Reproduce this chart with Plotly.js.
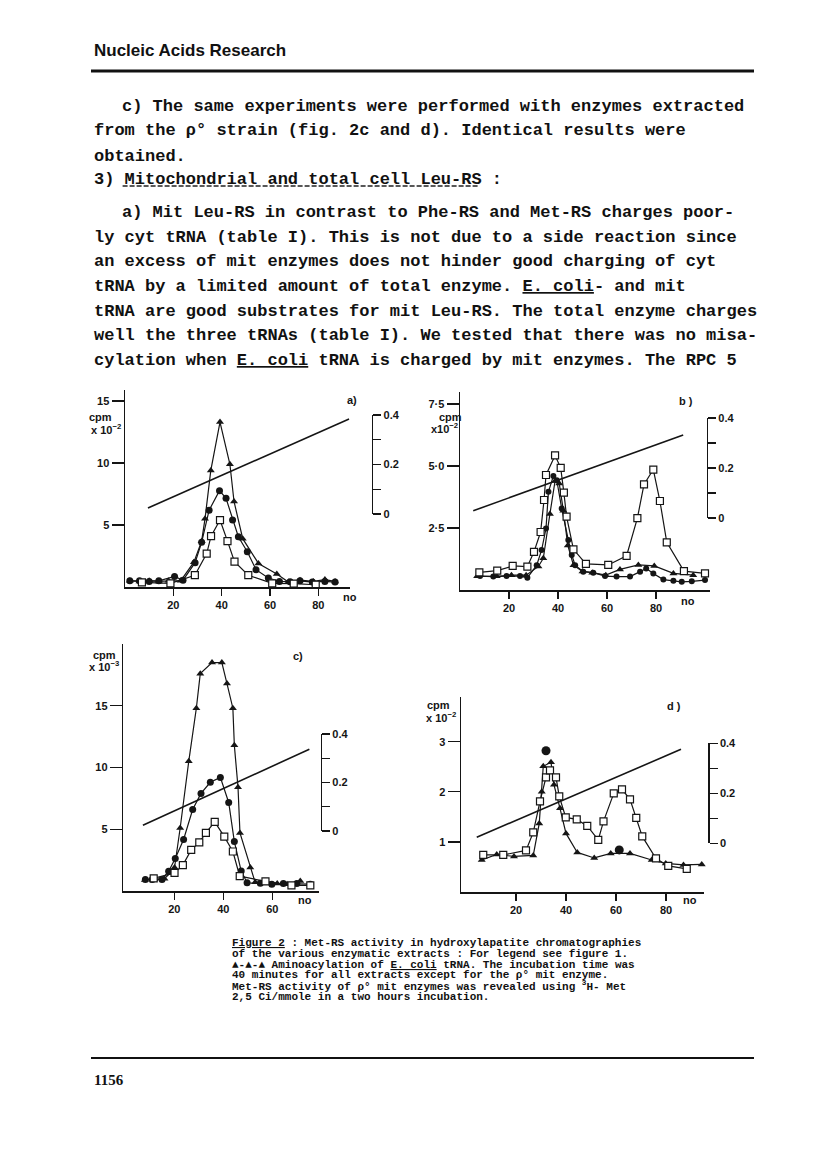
<!DOCTYPE html>
<html><head><meta charset="utf-8">
<script src="https://cdn.plot.ly/plotly-3.0.1.min.js"></script>
<style>html,body{margin:0;padding:0;background:#fff}#chart{width:816px;height:1149px}</style>
</head><body><div id="chart"></div>
<script>
// ---------- DATA ----------
// Panel a
const a_tri_x = [2,6,10,14,18,23,28.5,31.7,33.1,35.5,39.3,43.4,45.1,48.7,55.2,62.8,67.6,72.4,77.9,82.7,86.9];
const a_tri_y = [0.5,0.45,0.5,0.45,0.5,0.5,2.0,3.7,5.5,9.4,13.3,9.9,6.9,3.9,1.9,1.05,0.4,0.55,0.45,0.6,0.45];
const a_cir_x = [2,6,10,14,20.5,24,29,31.7,34.8,39.1,41.8,44.5,46.9,50.6,54.2,59.3,63.9,68.3,72.4,77.5,82.7,86.9];
const a_cir_y = [0.5,0.5,0.45,0.5,0.85,0.55,1.96,3.6,6.2,7.77,7.15,5.4,4.05,2.85,1.4,0.72,0.45,0.42,0.5,0.4,0.45,0.4];
const a_sq_x = [7,18.8,28.9,33.8,35.6,39.3,42.4,45.3,51,60.9,69.8,78.9];
const a_sq_y = [0.38,0.3,0.95,2.7,4.1,5.4,3.7,2.05,0.95,0.3,0.27,0.18];
const a_grad_x = [9.5,92.7];
const a_grad_y = [0.024,0.384];
// Panel b
const b_sq_x = [7.9,15.2,21.5,27.5,30.2,32.9,34.3,35.1,38.8,41.1,42.4,43.5,46.3,51.4,60.5,68,72.4,75.1,78.9,81.6,84.4,91.4,100];
const b_sq_y = [0.71,0.78,0.97,0.94,1.54,2.34,3.63,4.64,5.43,4.93,3.93,2.96,1.64,1.05,1.01,1.38,2.9,4.26,4.86,3.59,1.92,0.76,0.67];
const b_tri_x = [7,15,21,27,32,34,36.7,38.8,40.5,42.2,44,46.3,50,54,59.5,65.3,72.8,79.3,87.1,95.2];
const b_tri_y = [0.55,0.55,0.6,0.6,0.95,1.28,3.07,4.4,4.3,3.2,1.8,1.0,0.75,0.7,0.6,0.83,1.01,0.97,0.67,0.6];
const b_cir_x = [8.2,13.6,19,24.5,27.5,31.3,33.3,35.1,36.1,38.1,39.5,41.5,44.2,45.6,47,50.3,54.4,59.2,63.9,69.4,73.5,76,78.9,83,87.1,90.5,94.6,100];
const b_cir_y = [0.56,0.54,0.56,0.56,0.49,1.0,1.61,2.48,3.96,4.6,4.43,3.29,2.02,1.41,1.0,0.74,0.7,0.56,0.54,0.54,0.74,0.87,0.67,0.42,0.37,0.33,0.35,0.4];
const b_grad_x = [5.4,91.1];
const b_grad_y = [0.029,0.332];
// Panel c
const c_tri_x = [8,12,16,18.5,20.1,22.4,25.9,29,30.6,35.4,39.4,41.5,43.9,44.5,46,46.8,51,53,58,62,66,71.4];
const c_tri_y = [0.9,0.95,1.0,1.5,1.9,5.1,10.5,14.8,17.6,18.5,18.5,16.8,14.8,11.8,8.4,4.7,1.9,0.7,0.65,0.6,0.55,0.8];
const c_cir_x = [8.2,11,15,17.7,20.4,23.8,27.5,30.9,34.7,38.8,42.2,44.5,47.3,49.7,55.1,59.8,64.5,70,75.5];
const c_cir_y = [0.94,0.94,0.94,1.6,2.63,4.17,6.6,7.9,8.8,9.2,7.17,4.0,1.61,0.67,0.62,0.54,0.6,0.6,0.55];
const c_sq_x = [11.6,20.1,23.5,26.9,30.2,32.9,36.5,40.4,43.9,46.7,57.2,67.8,75.5];
const c_sq_y = [1.02,1.47,2.1,3.33,3.93,4.7,5.6,4.4,3.2,1.2,0.78,0.45,0.45];
const c_grad_x = [7.2,75.1];
const c_grad_y = [0.024,0.337];
// Panel d
const d_sq_x = [6.9,14.9,24,26.9,29.6,32,33.6,36,37.3,39.9,44.3,48.5,52.9,55,59.1,62.4,65.6,68.1,70.5,76,80.9,88.3];
const d_sq_y = [0.74,0.74,0.83,1.19,1.81,2.29,2.43,2.29,1.91,1.49,1.45,1.32,1.04,1.41,1.97,2.05,1.85,1.48,1.11,0.67,0.52,0.46];
const d_tri_x = [6.3,12.3,19.2,26.9,29.3,30.3,30.9,34,35.2,37.6,40,44.5,51.3,57.9,65.6,74.3,79.9,87,94.3];
const d_tri_y = [0.64,0.75,0.71,0.73,1.37,2.0,2.51,2.59,2.14,1.67,1.17,0.79,0.68,0.77,0.77,0.64,0.57,0.54,0.55];
const d_cir_x = [32,61.3];
const d_cir_y = [2.82,0.84];
const d_grad_x = [4.3,86];
const d_grad_y = [0.024,0.376];

// tick labels
const xTicks = [20,40,60,80];
const a_yticks = [5,10,15], a_ytext = ['5','10','15'];
const b_yticks = [2.5,5,7.5], b_ytext = ['2·5','5·0','7·5'];
const c_yticks = [5,10,15], c_ytext = ['5','10','15'];
const d_yticks = [1,2,3], d_ytext = ['1','2','3'];
const gTicks = [0,0.2,0.4], gText = ['0','0.2','0.4'], gMinor = [0.1,0.3];

// ---------- LAYOUT HELPERS ----------
const W=816,H=1149;
const X=p=>p/W, Y=p=>1-p/H;
const INK='#151515';
const tf={family:'Liberation Sans, Arial, sans-serif',size:11,color:INK,weight:'bold'};

function xax(l,r,r0,r1,anchor){return {domain:[X(l),X(r)],range:[r0,r1],anchor:anchor,showline:true,linecolor:INK,linewidth:1.5,
  ticks:'outside',ticklen:7,tickwidth:1.3,tickcolor:INK,tickvals:xTicks,showgrid:false,zeroline:false,tickfont:tf,fixedrange:true};}
function yax(b,t,r0,r1,anchor,tv,tt){return {domain:[Y(b),Y(t)],range:[r0,r1],anchor:anchor,showline:true,linecolor:INK,linewidth:1.5,
  ticks:'outside',ticklen:12,tickwidth:1.3,tickcolor:INK,tickvals:tv,ticktext:tt,showgrid:false,zeroline:false,tickfont:tf,fixedrange:true};}
function gax(b,t,pos){return {domain:[Y(b),Y(t)],range:[0,0.4],anchor:'free',position:X(pos),side:'right',showline:true,linecolor:INK,linewidth:1.4,
  ticks:'outside',ticklen:8,tickwidth:1.3,tickcolor:INK,tickvals:gTicks,ticktext:gText,
  minor:{tickvals:gMinor,ticks:'outside',ticklen:8,tickwidth:1.3,tickcolor:INK,showgrid:false},
  showgrid:false,zeroline:false,tickfont:tf,fixedrange:true};}

function ser(x,y,xa,ya,sym,size,mode){
  const open = sym==='square';
  return {type:'scatter',mode:mode||'lines+markers',x:x,y:y,xaxis:xa,yaxis:ya,cliponaxis:false,
    line:{color:INK,width:1.2},
    marker:{symbol:sym,size:size,color:open?'#fff':INK,line:{color:INK,width:open?1.2:0}}};
}
function grad(x,y,xa,ya){return {type:'scatter',mode:'lines',x:x,y:y,xaxis:xa,yaxis:ya,line:{color:INK,width:1.6}};}

const traces=[
  ser(a_cir_x,a_cir_y,'x','y','circle',7), ser(a_tri_x,a_tri_y,'x','y','triangle-up',7), ser(a_sq_x,a_sq_y,'x','y','square',7),
  grad(a_grad_x,a_grad_y,'x','y2'),
  ser(b_cir_x,b_cir_y,'x2','y3','circle',6), ser(b_tri_x,b_tri_y,'x2','y3','triangle-up',7), ser(b_sq_x,b_sq_y,'x2','y3','square',7),
  grad(b_grad_x,b_grad_y,'x2','y4'),
  ser(c_cir_x,c_cir_y,'x3','y5','circle',7), ser(c_tri_x,c_tri_y,'x3','y5','triangle-up',7), ser(c_sq_x,c_sq_y,'x3','y5','square',7),
  grad(c_grad_x,c_grad_y,'x3','y6'),
  ser(d_tri_x,d_tri_y,'x4','y7','triangle-up',7), ser(d_sq_x,d_sq_y,'x4','y7','square',7), ser(d_cir_x,d_cir_y,'x4','y7','circle',9,'markers'),
  grad(d_grad_x,d_grad_y,'x4','y8')
];

// ---------- TEXT ----------
const mono={family:'Liberation Mono, Courier New, monospace',size:17,color:'#111',weight:'bold'};
const ann=[];
function T(px,py,text,font,xa){ann.push({xref:'paper',yref:'paper',x:X(px),y:Y(py),text:text,showarrow:false,xanchor:xa||'left',yanchor:'middle',font:font});}

T(92,50,'Nucleic Acids Research',{family:'Liberation Sans, Arial, sans-serif',size:17,color:'#111',weight:'bold'});
const bodyLines=[
 [120,106.7,'c) The same experiments were performed with enzymes extracted'],
 [92,131,'from the ρ° strain (fig. 2c and d). Identical results were'],
 [92,156,'obtained.'],
 [92,179,'3) Mitochondrial and total cell Leu-RS :'],
 [120,212.7,'a) Mit Leu-RS in contrast to Phe-RS and Met-RS charges poor-'],
 [92,237.3,'ly cyt tRNA (table I). This is not due to a side reaction since'],
 [92,261.7,'an excess of mit enzymes does not hinder good charging of cyt'],
 [92,286.7,'tRNA by a limited amount of total enzyme. <u>E. coli</u>- and mit'],
 [92,311.7,'tRNA are good substrates for mit Leu-RS. The total enzyme charges'],
 [92,335.7,'well the three tRNAs (table I). We tested that there was no misa-'],
 [92,360.7,'cylation when <u>E. coli</u> tRNA is charged by mit enzymes. The RPC 5']
];
bodyLines.forEach(l=>T(l[0],l[1],l[2],mono));

const cap={family:'Liberation Mono, Courier New, monospace',size:11,color:'#111',weight:'bold'};
const capLines=[
 '<u>Figure 2</u> : Met-RS activity in hydroxylapatite chromatographies',
 'of the various enzymatic extracts : For legend see figure 1.',
 '▲-▲-▲ Aminoacylation of <u>E. coli</u> tRNA. The incubation time was',
 '40 minutes for all extracts except for the ρ° mit enzyme.',
 'Met-RS activity of ρ° mit enzymes was revealed using <sup>3</sup>H- Met',
 '2,5 Ci/mmole in a two hours incubation.'
];
capLines.forEach((t,i)=>T(230,943+i*10.8,t,cap));

T(92,1080,'1156',{family:'Liberation Serif, Times New Roman, serif',size:15,color:'#111',weight:'bold'});

const lab={family:'Liberation Sans, Arial, sans-serif',size:11,color:INK,weight:'bold'};
const lab2={family:'Liberation Sans, Arial, sans-serif',size:11,color:INK,weight:'bold'};
// panel a
T(114,417,'cpm',lab,'right'); T(123,429,'x 10<sup>−2</sup>',lab,'right');
T(352,400,'a)',lab2,'center'); T(350,597,'no',lab2,'center');
// panel b
T(464,417,'cpm',lab,'right'); T(460,428,'x10<sup>−2</sup>',lab,'right');
T(686,401,'b )',lab2,'center'); T(688,601,'no',lab2,'center');
// panel c
T(118,655,'cpm',lab,'right'); T(121,666,'x 10<sup>−3</sup>',lab,'right');
T(298,656,'c)',lab2,'center'); T(305,900,'no',lab2,'center');
// panel d
T(452,705,'cpm',lab,'right'); T(458,717,'x 10<sup>−2</sup>',lab,'right');
T(674,706,'d )',lab2,'center'); T(690,900,'no',lab2,'center');

const shapes=[
 {type:'line',xref:'paper',yref:'paper',x0:X(91),x1:X(754),y0:Y(71),y1:Y(71),line:{color:'#111',width:3}},
 {type:'line',xref:'paper',yref:'paper',x0:X(122.6),x1:X(479.6),y0:Y(186),y1:Y(186),line:{color:'#222',width:1.3,dash:'5px,2px'}},
 {type:'line',xref:'paper',yref:'paper',x0:X(91),x1:X(754),y0:Y(1058),y1:Y(1058),line:{color:'#111',width:2}}
];

const layout={width:W,height:H,margin:{l:0,r:0,t:0,b:0},paper_bgcolor:'#fff',plot_bgcolor:'rgba(0,0,0,0)',showlegend:false,
  xaxis: xax(125,349.8,0,93,'y'),
  yaxis: yax(587,390,0,15.89,'x',a_yticks,a_ytext),
  yaxis2: gax(514,415,372),
  xaxis2: xax(460,709.9,0,102,'y3'),
  yaxis3: yax(590,391.7,0,8.0,'x2',b_yticks,b_ytext),
  yaxis4: gax(518,418,706.7),
  xaxis3: xax(123.3,318.9,-0.8,79,'y5'),
  yaxis5: yax(891,644,0,20,'x3',c_yticks,c_ytext),
  yaxis6: gax(831,734,320.7),
  xaxis4: xax(461,703.5,-2,95,'y7'),
  yaxis7: yax(892,696.7,0,3.9,'x4',d_yticks,d_ytext),
  yaxis8: gax(843.3,743.3,708.3),
  annotations:ann, shapes:shapes
};
Plotly.newPlot('chart',traces,layout,{staticPlot:true,displayModeBar:false});
</script></body></html>
